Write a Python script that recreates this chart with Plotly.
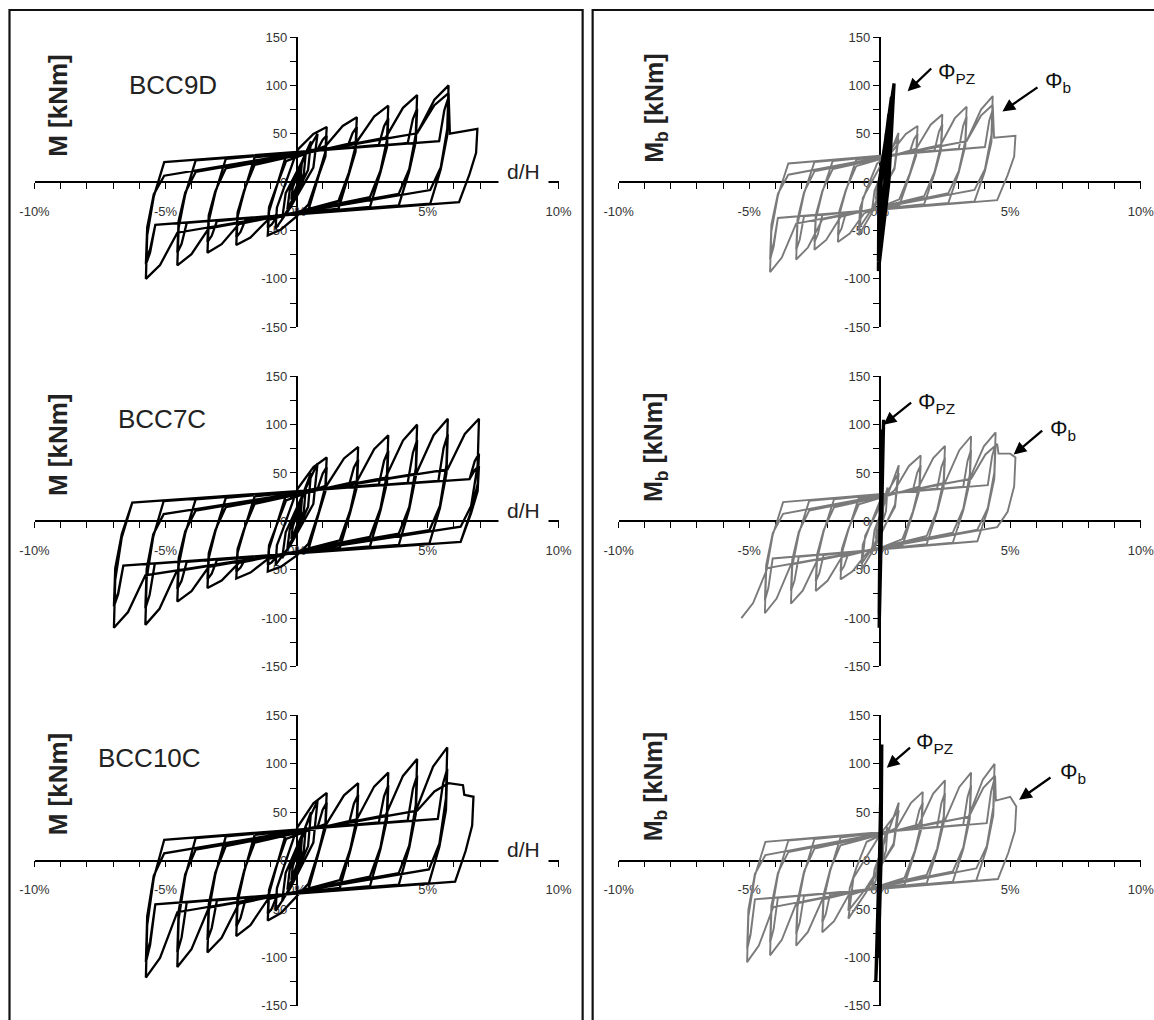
import plotly.graph_objects as go

# ---------------- tick labels ----------------
X_TICKS = [-10, -5, 0, 5, 10]
X_TICK_TEXT = ["-10%", "-5%", "0%", "5%", "10%"]
Y_TICKS = [150, 100, 50, 0, -50, -100, -150]
Y_TICK_TEXT = ["150", "100", "50", "0", "-50", "-100", "-150"]

SPECIMENS = ["BCC9D", "BCC7C", "BCC10C"]

# ---------------- BCC9D : M vs d/H (cycle peaks) ----------------
bcc9d_pos_d = [0.2, 0.35, 0.55, 0.8, 1.15, 1.15, 2.3, 2.3, 3.5, 3.5, 4.6, 4.6, 5.8, 5.8, 6.9]
bcc9d_pos_M = [20, 30, 42, 50, 57, 48, 67, 57, 79, 66, 90, 76, 100, 88, 55]
bcc9d_neg_d = [-0.2, -0.35, -0.55, -0.8, -1.1, -1.1, -2.3, -2.3, -3.4, -3.4, -4.55, -4.55, -5.75, -5.75, -5.75]
bcc9d_neg_M = [-18, -28, -38, -48, -55, -47, -65, -57, -73, -62, -86, -73, -100, -85, -80]
bcc9d_final_d = [5.8, 5.85]
bcc9d_final_M = [92, 50]

# ---------------- BCC7C ----------------
bcc7c_pos_d = [0.2, 0.35, 0.55, 0.8, 1.15, 1.15, 2.35, 2.35, 3.5, 3.5, 4.6, 4.6, 5.77, 5.77, 6.96, 6.96, 6.96]
bcc7c_pos_M = [22, 35, 50, 60, 66, 56, 77, 64, 89, 73, 100, 84, 106, 90, 106, 70, 57]
bcc7c_neg_d = [-0.2, -0.35, -0.55, -0.8, -1.1, -1.1, -2.3, -2.3, -3.4, -3.4, -4.55, -4.55, -5.77, -5.77, -6.97, -6.97, -6.97]
bcc7c_neg_M = [-18, -28, -38, -45, -52, -45, -59, -52, -69, -60, -83, -70, -107, -90, -110, -88, -86]

# ---------------- BCC10C ----------------
bcc10c_pos_d = [0.2, 0.35, 0.55, 0.8, 1.15, 1.15, 2.35, 2.35, 3.5, 3.5, 4.6, 4.6, 5.75, 5.75, 6.75]
bcc10c_pos_M = [22, 35, 50, 62, 70, 60, 80, 68, 91, 78, 105, 88, 117, 95, 66]
bcc10c_neg_d = [-0.2, -0.35, -0.55, -0.8, -1.1, -1.1, -2.3, -2.3, -3.4, -3.4, -4.55, -4.55, -5.75, -5.75, -5.75]
bcc10c_neg_M = [-20, -30, -42, -52, -62, -55, -78, -68, -95, -82, -110, -95, -121, -105, -100]
bcc10c_final_d = [5.8, 6.35, 6.4]
bcc10c_final_M = [80, 78, 68]

# ---------------- Mb vs Phi_b (grey) ----------------
phib9d_pos_d = [0.15, 0.3, 0.72, 0.72, 1.45, 1.45, 2.4, 2.4, 3.33, 3.33, 4.33, 4.33, 5.2]
phib9d_pos_M = [20, 35, 51, 45, 58, 50, 70, 60, 78, 68, 89, 75, 48]
phib9d_neg_d = [-0.15, -0.3, -0.8, -0.8, -1.6, -1.6, -2.5, -2.5, -3.2, -3.2, -4.2, -4.2, -4.2]
phib9d_neg_M = [-18, -30, -55, -48, -62, -55, -70, -62, -80, -70, -93, -80, -75]
phib9d_final_d = [4.33, 4.38]
phib9d_final_M = [80, 46]

phib7c_pos_d = [0.15, 0.3, 0.73, 0.73, 1.57, 1.57, 2.5, 2.5, 3.5, 3.5, 4.44, 4.44, 5.2]
phib7c_pos_M = [20, 35, 58, 50, 68, 58, 78, 66, 88, 74, 92, 80, 66]
phib7c_neg_d = [-0.15, -0.3, -0.7, -0.7, -1.5, -1.5, -2.45, -2.45, -3.4, -3.4, -4.4, -4.4, -5.3]
phib7c_neg_M = [-18, -30, -50, -44, -60, -52, -72, -62, -85, -72, -95, -82, -100]
phib7c_final_d = [4.5, 4.55, 5.0]
phib7c_final_M = [80, 70, 70]

phib10c_pos_d = [0.15, 0.3, 0.73, 0.73, 1.65, 1.65, 2.5, 2.5, 3.5, 3.5, 4.4, 4.4, 5.23]
phib10c_pos_M = [20, 35, 60, 52, 71, 60, 83, 70, 91, 78, 100, 85, 56]
phib10c_neg_d = [-0.15, -0.3, -1.2, -1.2, -2.2, -2.2, -3.2, -3.2, -4.2, -4.2, -5.08, -5.08, -5.08]
phib10c_neg_M = [-18, -30, -60, -52, -74, -64, -88, -76, -98, -85, -105, -92, -90]
phib10c_final_d = [4.42, 4.45, 5.0, 5.1]
phib10c_final_M = [88, 62, 66, 62]

# ---------------- Mb vs Phi_pz (black) ----------------
pz9d_pos_d = [0.15, 0.25, 0.35, 0.45, 0.55]
pz9d_pos_M = [30, 50, 70, 88, 102]
pz9d_neg_d = [0.05, 0.0, -0.03, -0.05, -0.05]
pz9d_neg_M = [-30, -50, -68, -82, -92]
pz9d_up0 = [0.05, 0.03, 0.0, -0.02, -0.03]
pz9d_dn0 = [0.2, 0.25, 0.3, 0.33, 0.35]

pz7c_pos_d = [0.05, 0.08, 0.1, 0.15]
pz7c_pos_M = [40, 70, 95, 105]
pz7c_neg_d = [0.0, 0.0, -0.02, -0.02]
pz7c_neg_M = [-40, -70, -95, -110]
pz7c_up0 = [0.02, 0.02, 0.01, 0.01]
pz7c_dn0 = [0.05, 0.06, 0.06, 0.07]

pz10c_pos_d = [0.03, 0.05, 0.06, 0.08]
pz10c_pos_M = [40, 80, 100, 120]
pz10c_neg_d = [-0.02, -0.03, -0.05, -0.15]
pz10c_neg_M = [-40, -80, -100, -125]
pz10c_up0 = [0.0, 0.0, -0.01, -0.02]
pz10c_dn0 = [0.03, 0.04, 0.05, 0.05]


def build_loops(pos_d, pos_M, neg_d, neg_M, c_up, c_lo, s, r_max,
                final_d=None, final_M=None):
    """Connect read-off cycle peaks into one continuous hysteresis path."""
    xs, ys = [0.0], [0.0]
    cur_d, cur_M = 0.0, 0.0
    n = len(pos_d)
    for i in range(n):
        dp, Mp, dn, Mn = pos_d[i], pos_M[i], neg_d[i], neg_M[i]
        span = dp - dn
        rep = i > 0 and dp == pos_d[i - 1]
        repn = i > 0 and dn == neg_d[i - 1]
        if rep:
            def up(x):
                return c_up + 6 + 0.45 * s * x
        else:
            def up(x):
                return c_up + s * x
        if repn:
            def lo(x):
                return -c_lo - 6 + 0.45 * s * x
        else:
            def lo(x):
                return -c_lo + s * x
        pts = []
        if span < 2.2:
            pts += [(cur_d + 0.1 * (dp - cur_d), cur_M * 0.3),
                    (dp - 0.35 * (dp - cur_d), Mp * 0.55),
                    (dp, Mp),
                    (dp - 0.1 * span, Mp * 0.3),
                    (dn + 0.35 * span, Mn * 0.55),
                    (dn, Mn)]
        else:
            r = min(r_max, 0.5 * span)
            rp = 0.3 * r if rep else r
            rn = 0.3 * r if repn else r
            if cur_M < 0:
                pts += [(cur_d + 0.05, cur_M * 0.55),
                        (cur_d + 0.3, cur_M * 0.15),
                        (cur_d + 0.7, up(cur_d + 0.7) * 0.85)]
            last = (i == n - 1) and final_d is not None
            tgt_d, tgt_M = (final_d[0], final_M[0]) if last else (dp, Mp)
            rs = tgt_d - rp
            y0 = up(rs) + (0 if rep else 6)
            pts += [(rs, y0), (tgt_d - 0.45 * rp, y0 + 0.7 * (tgt_M - y0))]
            if last:
                pts += list(zip(final_d, final_M))
            pts += [(dp, Mp),
                    (dp - 0.05, Mp * 0.55),
                    (dp - 0.3, Mp * 0.15),
                    (dp - 0.7, lo(dp - 0.7) * 0.85)]
            yl = lo(dn + rn) - (0 if repn else 6)
            pts += [(dn + rn, yl), (dn + 0.45 * rn, yl + 0.7 * (Mn - yl)), (dn, Mn)]
        for (x, y) in pts:
            xs.append(x)
            ys.append(y)
        cur_d, cur_M = dn, Mn
    return xs, ys


def build_pz(pos_d, pos_M, neg_d, neg_M, up0, dn0):
    xs, ys = [up0[0]], [0.0]
    for i in range(len(pos_d)):
        xs += [pos_d[i], dn0[i], neg_d[i], up0[i]]
        ys += [pos_M[i], 0.0, neg_M[i], 0.0]
    return xs, ys


FONT = "Liberation Sans, Arial, sans-serif"
W, H = 1154, 1020

# The page photo shows the plot area slightly inset/scaled; map target
# screen pixels to paper fractions accordingly.
OX, KX = 14.5, 0.9755
OY, KY = 8.0, 0.9846
FS = 1.0 / KX


def fx(px):
    return (px - OX) / KX / W


def fy(py):
    return 1 - (py - OY) / KY / H


# target screen geometry (pixels)
LEFT_X = (34, 558)
RIGHT_X = (618, 1140)
ROWS_Y = [(38, 328), (377, 667), (716, 1006)]

fig = go.Figure()

left_data = [
    build_loops(bcc9d_pos_d, bcc9d_pos_M, bcc9d_neg_d, bcc9d_neg_M, 27, 29, 3.8, 1.2,
                bcc9d_final_d, bcc9d_final_M),
    build_loops(bcc7c_pos_d, bcc7c_pos_M, bcc7c_neg_d, bcc7c_neg_M, 27, 29, 3.6, 1.2),
    build_loops(bcc10c_pos_d, bcc10c_pos_M, bcc10c_neg_d, bcc10c_neg_M, 28, 30, 3.8, 1.2,
                bcc10c_final_d, bcc10c_final_M),
]
right_data = [
    build_loops(phib9d_pos_d, phib9d_pos_M, phib9d_neg_d, phib9d_neg_M, 23, 24, 4.0, 1.0,
                phib9d_final_d, phib9d_final_M),
    build_loops(phib7c_pos_d, phib7c_pos_M, phib7c_neg_d, phib7c_neg_M, 24, 25, 4.0, 1.0,
                phib7c_final_d, phib7c_final_M),
    build_loops(phib10c_pos_d, phib10c_pos_M, phib10c_neg_d, phib10c_neg_M, 25, 25, 4.2, 1.0,
                phib10c_final_d, phib10c_final_M),
]
pz_data = [
    build_pz(pz9d_pos_d, pz9d_pos_M, pz9d_neg_d, pz9d_neg_M, pz9d_up0, pz9d_dn0),
    build_pz(pz7c_pos_d, pz7c_pos_M, pz7c_neg_d, pz7c_neg_M, pz7c_up0, pz7c_dn0),
    build_pz(pz10c_pos_d, pz10c_pos_M, pz10c_neg_d, pz10c_neg_M, pz10c_up0, pz10c_dn0),
]

layout_axes = {}
annotations = []

for row in range(3):
    yt, yb = ROWS_Y[row]
    ydom = [fy(yb), fy(yt)]
    ymid = (ydom[0] + ydom[1]) / 2
    for col in range(2):
        k = row * 2 + col + 1
        xl, xr = LEFT_X if col == 0 else RIGHT_X
        xdom = [fx(xl), fx(xr)]
        xmid = (xdom[0] + xdom[1]) / 2
        xname = "xaxis" if k == 1 else f"xaxis{k}"
        yname = "yaxis" if k == 1 else f"yaxis{k}"
        xref = "x" if k == 1 else f"x{k}"
        yref = "y" if k == 1 else f"y{k}"
        layout_axes[xname] = dict(
            domain=xdom, range=[-10, 10], anchor="free", position=ymid,
            showline=True, linecolor="black", linewidth=1.6,
            ticks="outside", ticklen=6, tickwidth=1.4, tickcolor="black",
            tickmode="array", tickvals=X_TICKS, ticktext=X_TICK_TEXT,
            minor=dict(tickmode="linear", tick0=0, dtick=1, ticks="outside",
                       ticklen=6, tickwidth=1.4, tickcolor="black"),
            tickfont=dict(family=FONT, size=round(13 * FS), color="#333"),
            ticklabelstandoff=11, ticklabeloverflow="allow",
            showgrid=False, zeroline=False, layer="below traces", fixedrange=True,
        )
        layout_axes[yname] = dict(
            domain=ydom, range=[-150, 150], anchor="free", position=xmid,
            showline=True, linecolor="black", linewidth=1.6,
            ticks="outside", ticklen=6, tickwidth=1.4, tickcolor="black",
            tickmode="array", tickvals=Y_TICKS, ticktext=Y_TICK_TEXT,
            minor=dict(tickmode="linear", tick0=0, dtick=25, ticks="outside",
                       ticklen=6, tickwidth=1.4, tickcolor="black"),
            tickfont=dict(family=FONT, size=round(13 * FS), color="#333"),
            showgrid=False, zeroline=False, layer="below traces", fixedrange=True,
        )
        if col == 0:
            xs, ys = left_data[row]
            fig.add_trace(go.Scatter(x=xs, y=ys, mode="lines", xaxis=xref, yaxis=yref,
                                     line=dict(color="black", width=2.3), hoverinfo="skip"))
            annotations.append(dict(xref=xref, yref=yref, x=-9.1, y=79,
                                    text="<b>M [kNm]</b>", textangle=-90, showarrow=False,
                                    font=dict(family=FONT, size=26, color="#222")))
            annotations.append(dict(xref=xref, yref=yref, x=-4.7 - 0.45 * row, y=100 + 6 * min(row, 1),
                                    text=SPECIMENS[row], showarrow=False,
                                    font=dict(family=FONT, size=26, color="#222")))
            annotations.append(dict(xref=xref, yref=yref, x=8.65, y=11,
                                    text="d/H", showarrow=False, bgcolor="white",
                                    borderpad=8,
                                    font=dict(family=FONT, size=21, color="#222")))
        else:
            xs, ys = right_data[row]
            fig.add_trace(go.Scatter(x=xs, y=ys, mode="lines", xaxis=xref, yaxis=yref,
                                     line=dict(color="#7a7a7a", width=1.9), hoverinfo="skip"))
            px_, py_ = pz_data[row]
            fig.add_trace(go.Scatter(x=px_, y=py_, mode="lines", xaxis=xref, yaxis=yref,
                                     line=dict(color="black", width=3.3), hoverinfo="skip"))
            annotations.append(dict(xref=xref, yref=yref, x=-8.6, y=76,
                                    text="<b>M<sub>b</sub> [kNm]</b>", textangle=-90,
                                    showarrow=False,
                                    font=dict(family=FONT, size=25, color="#222")))

phi_specs = [
    ((1.07, 94), (2.03, 119), (2.15, 113), (4.7, 73), (6.1, 99), (6.25, 104)),
    ((0.15, 100), (1.26, 124), (1.38, 122), (5.13, 69), (6.28, 95), (6.43, 94)),
    ((0.27, 96), (1.22, 118), (1.3, 122), (5.34, 63), (6.6, 87), (6.83, 91)),
]
for row, spec in enumerate(phi_specs):
    k = row * 2 + 2
    xref, yref = f"x{k}", f"y{k}"
    (hx, hy), (tx, ty), (lx, ly), (bhx, bhy), (btx, bty), (blx, bly) = spec
    for (ax_, ay_), (x_, y_) in [((tx, ty), (hx, hy)), ((btx, bty), (bhx, bhy))]:
        annotations.append(dict(xref=xref, yref=yref, x=x_, y=y_, ax=ax_, ay=ay_,
                                axref=xref, ayref=yref, text="", showarrow=True,
                                arrowhead=2, arrowsize=1.1, arrowwidth=2.3,
                                arrowcolor="black"))
    annotations.append(dict(xref=xref, yref=yref, x=lx, y=ly, xanchor="left",
                            text="Φ<sub>PZ</sub>", showarrow=False,
                            font=dict(family=FONT, size=22, color="#111")))
    annotations.append(dict(xref=xref, yref=yref, x=blx, y=bly, xanchor="left",
                            text="Φ<sub>b</sub>", showarrow=False,
                            font=dict(family=FONT, size=22, color="#111")))

shapes = [
    dict(type="rect", xref="paper", yref="paper", x0=fx(9), x1=fx(582),
         y0=fy(1040), y1=fy(11), line=dict(color="#111", width=2.2)),
    dict(type="rect", xref="paper", yref="paper", x0=fx(592), x1=fx(1180),
         y0=fy(1040), y1=fy(11), line=dict(color="#111", width=2.2)),
]

fig.update_layout(
    width=W, height=H,
    margin=dict(l=0, r=0, t=0, b=0),
    paper_bgcolor="white", plot_bgcolor="white",
    showlegend=False,
    annotations=annotations,
    shapes=shapes,
    **layout_axes,
)

fig.write_html(
    "out.html",
    config={"displayModeBar": False},
    post_script="document.body.style.margin='0px';document.body.style.overflow='hidden';",
)
